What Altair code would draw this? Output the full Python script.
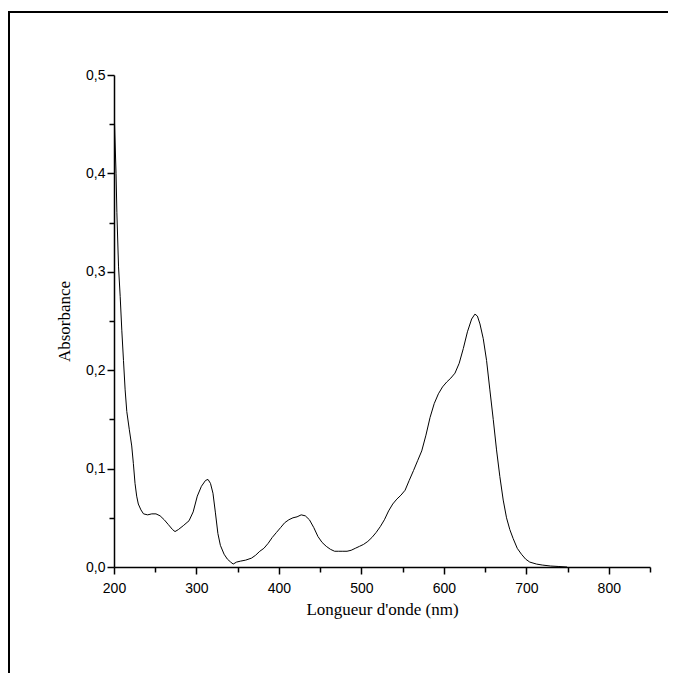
import altair as alt
import pandas as pd

wavelength = [200, 201, 202.5, 203.5, 205.5, 207.5, 209.5, 211.5, 213.5, 215.5, 218.5, 221.5,
              223.5, 225.5, 227.5, 229.5, 232.7, 235.8, 240.8, 245.8, 250.9, 255.9, 260.9, 266,
              271, 274, 278, 284, 291, 296, 301, 306, 311, 314, 317, 320, 323, 326, 329, 333.5,
              337.5, 341.5, 344.5, 348.6, 353.6, 359.7, 366.7, 371.8, 376.8, 381.8, 386.9, 391.9,
              396.9, 402, 407, 412, 417, 422, 427, 432, 437, 442.3, 447.3, 452.3, 457.4, 462.4,
              467.5, 472.5, 477.5, 482.6, 487.6, 492.6, 497.7, 502.7, 507.8, 512.8, 517.8, 522.9,
              527.9, 533, 538, 543, 548, 553, 558, 563.2, 568.2, 573.2, 578.3, 583.3, 588.3,
              593.4, 598.4, 603.5, 608.5, 613.5, 618.6, 623.6, 628.6, 633.7, 637.7, 640.7, 643.8,
              647.8, 651.8, 655.8, 659.9, 663.9, 667.9, 672, 676, 680, 684, 689, 694.1, 699.2,
              704.2, 712.3, 719.3, 729.4, 739.5, 749.5]
absorbance = [0.470, 0.440, 0.400, 0.360, 0.305, 0.275, 0.240, 0.210, 0.180, 0.158, 0.140, 0.123,
              0.105, 0.085, 0.072, 0.064, 0.058, 0.054, 0.053, 0.054, 0.054, 0.052, 0.048, 0.043,
              0.038, 0.036, 0.038, 0.042, 0.047, 0.056, 0.072, 0.082, 0.088, 0.089, 0.085, 0.075,
              0.055, 0.034, 0.022, 0.013, 0.008, 0.005, 0.003, 0.005, 0.006, 0.007, 0.009, 0.012,
              0.016, 0.019, 0.024, 0.030, 0.035, 0.040, 0.045, 0.048, 0.050, 0.051, 0.053, 0.052,
              0.048, 0.040, 0.031, 0.025, 0.021, 0.018, 0.016, 0.016, 0.016, 0.016, 0.017, 0.019,
              0.021, 0.023, 0.026, 0.030, 0.035, 0.041, 0.048, 0.057, 0.064, 0.069, 0.073, 0.078,
              0.088, 0.098, 0.108, 0.118, 0.134, 0.152, 0.166, 0.176, 0.183, 0.188, 0.192, 0.197,
              0.207, 0.222, 0.239, 0.252, 0.257, 0.255, 0.247, 0.232, 0.210, 0.180, 0.150, 0.119,
              0.092, 0.068, 0.050, 0.038, 0.029, 0.019, 0.013, 0.008, 0.005, 0.003, 0.002, 0.001,
              0.0005, 0.0]

x_ticks = list(range(200, 851, 50))
y_ticks = [round(i * 0.05, 2) for i in range(11)]

df = pd.DataFrame({"wl": wavelength, "abs": absorbance})

W, H = 536, 492

line = alt.Chart(df).mark_line(color="black", strokeWidth=1, clip=True).encode(
    x=alt.X("wl:Q", scale=alt.Scale(domain=[200, 850], nice=False, zero=False),
            axis=alt.Axis(values=x_ticks, title="Longueur d'onde (nm)",
                          labelExpr="datum.value % 100 === 0 && datum.value < 850 ? datum.label : ''",
                          tickSize={"condition": {"test": "datum.value % 100 === 0", "value": 7}, "value": 5},
                          labelFlush=False, labelPadding=7, titlePadding=6)),
    y=alt.Y("abs:Q", scale=alt.Scale(domain=[0, 0.5], nice=False),
            axis=alt.Axis(values=y_ticks, title="Absorbance",
                          labelExpr="(round(datum.value*100) % 10 === 0) ? replace(format(datum.value, '.1f'), '.', ',') : ''",
                          tickSize={"condition": {"test": "round(datum.value*100) % 10 === 0", "value": 7}, "value": 5},
                          labelFlush=False, labelPadding=2, titlePadding=12)),
)

frame_top = alt.Chart(df).mark_rule(color="black", strokeWidth=2).encode(
    x=alt.value(-105), x2=alt.value(W + 40), y=alt.value(-63))
frame_left = alt.Chart(df).mark_rule(color="black", strokeWidth=2).encode(
    x=alt.value(-105), y=alt.value(-64), y2=alt.value(H + 120))

chart = alt.layer(line, frame_top, frame_left).properties(
    width=W, height=H,
    background="white",
    autosize=alt.AutoSizeParams(type="none"),
    padding={"left": 106, "top": 67, "right": 18, "bottom": 106},
).configure_view(stroke=None).configure_axis(
    domainColor="black", domainWidth=1.5, tickColor="black", tickWidth=1.5,
    grid=False, labelFont="Liberation Sans", labelFontSize=14, labelColor="black",
    titleFont="Liberation Serif", titleFontSize=17, titleFontWeight="normal", titleColor="black",
)

chart.save("out.html", embed_options={"renderer": "svg", "actions": False})
